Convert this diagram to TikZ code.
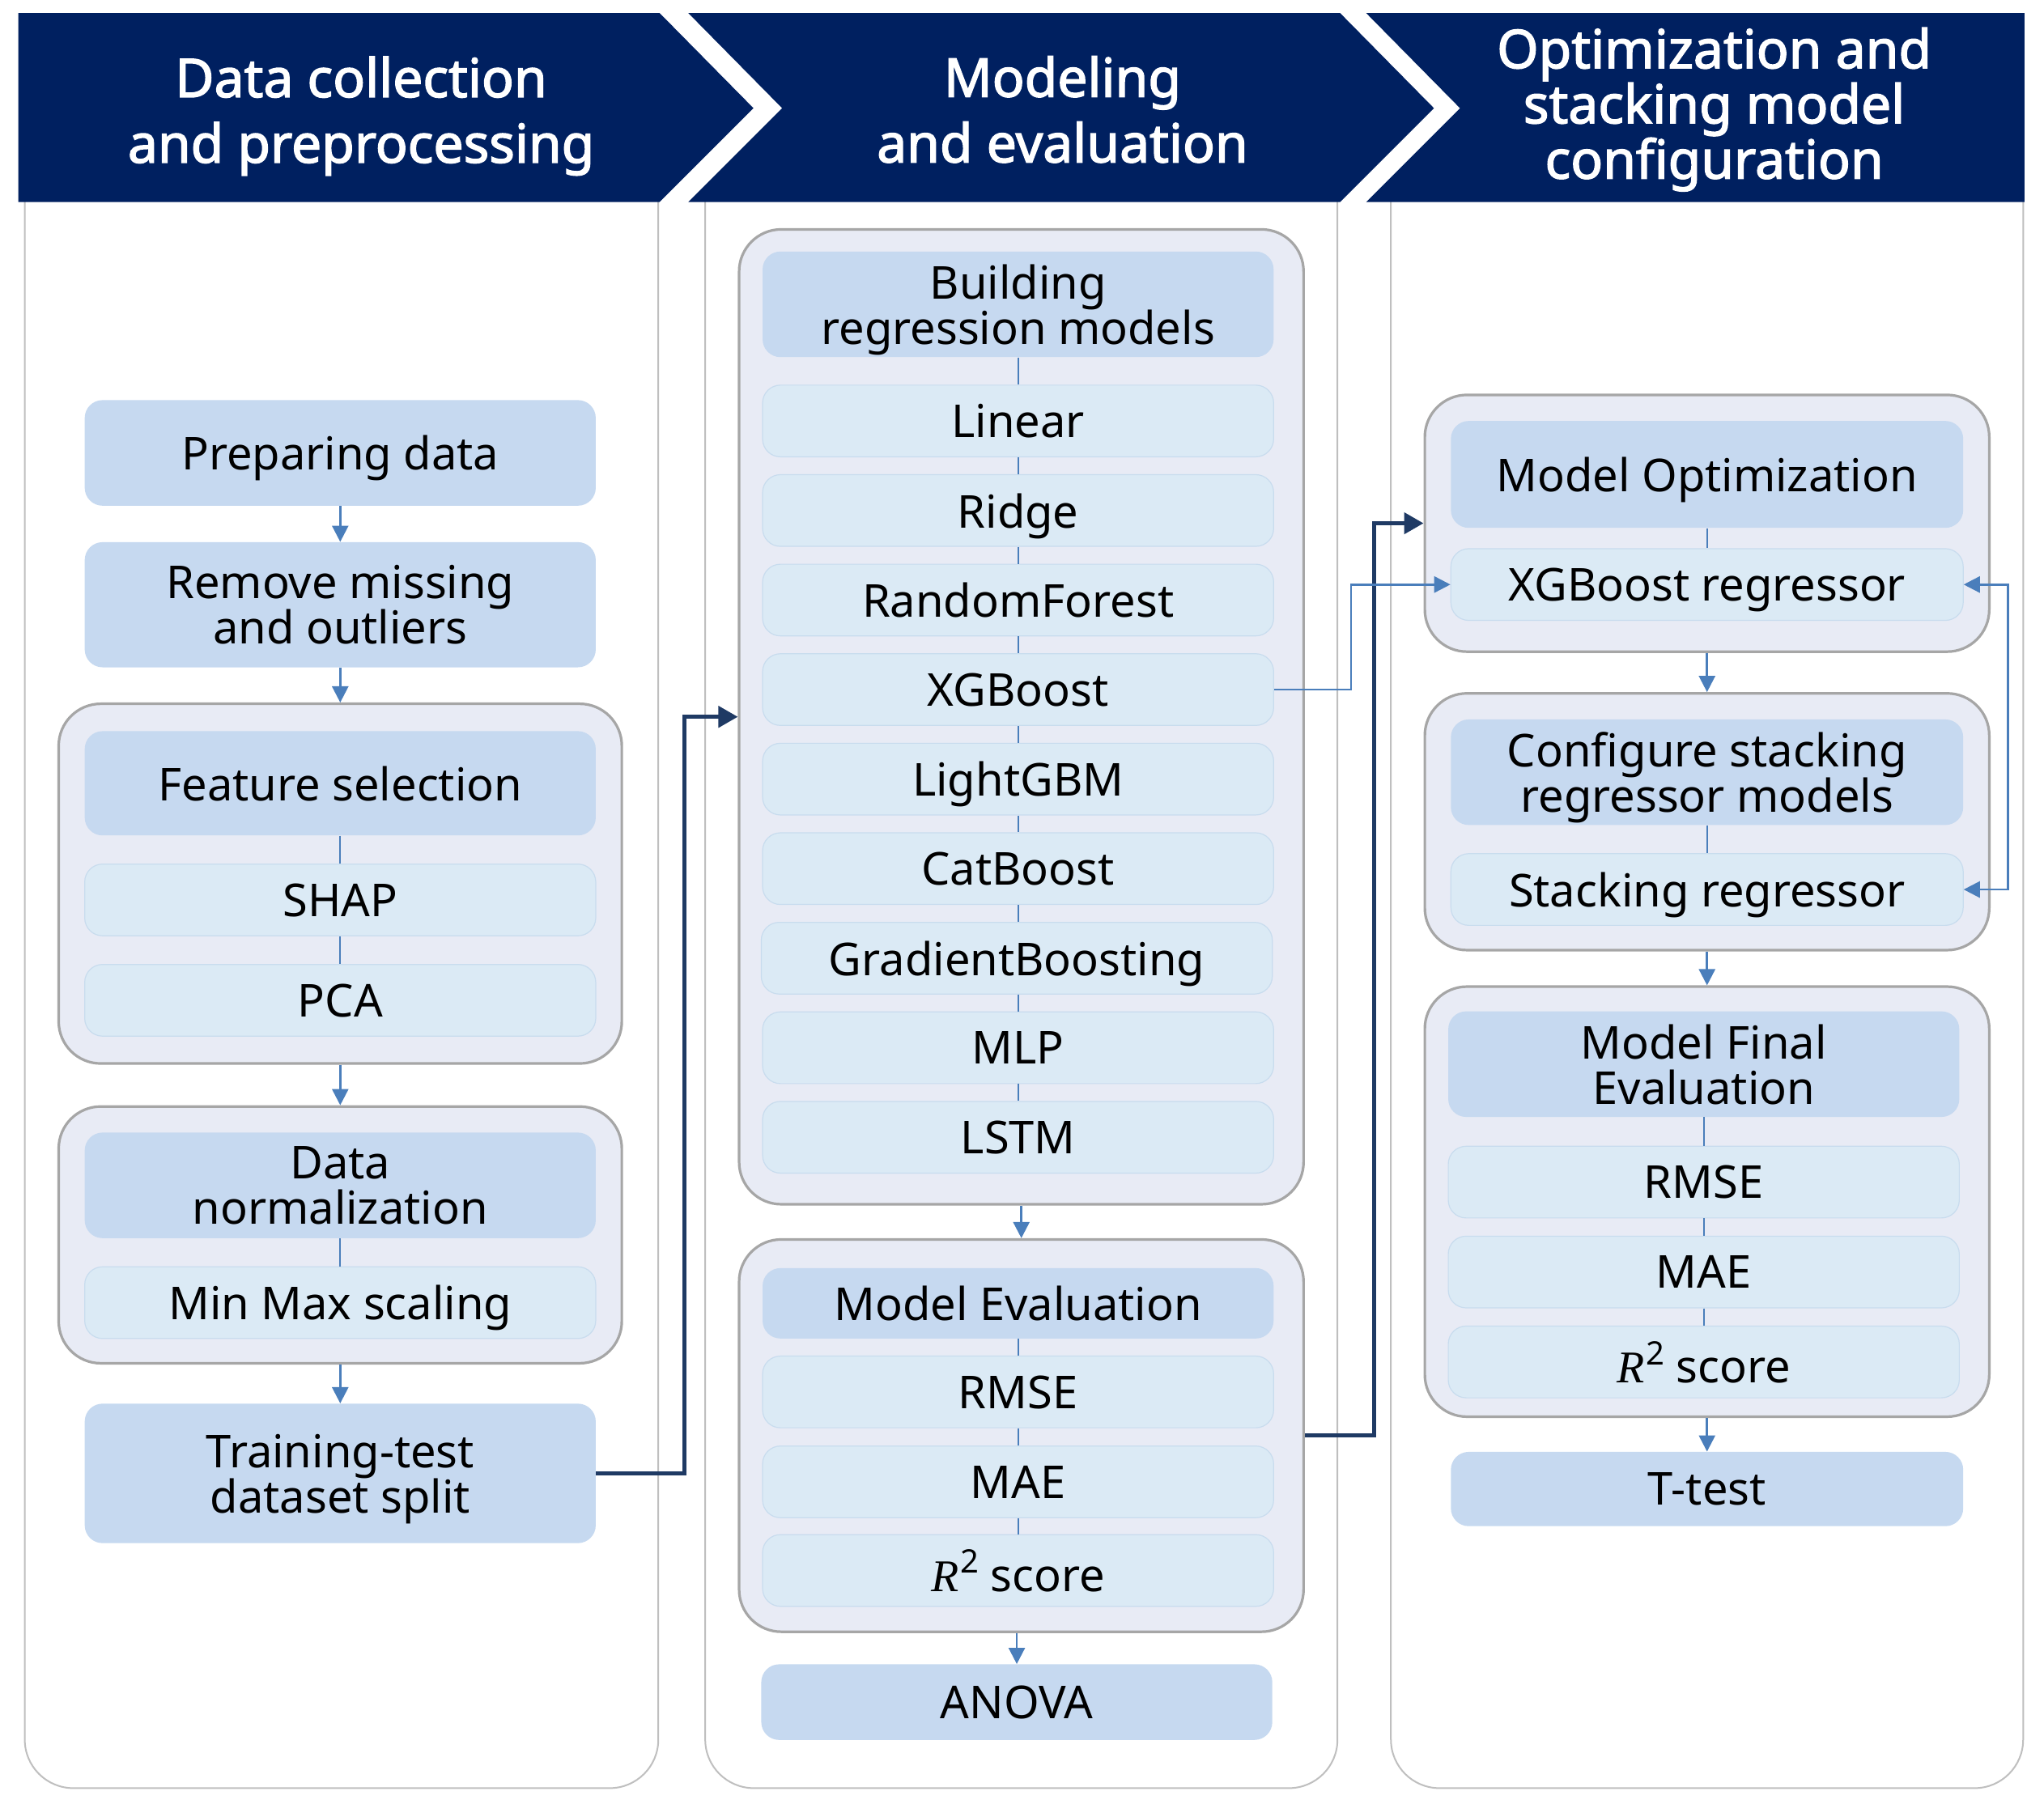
\documentclass[tikz,border=0pt]{standalone}
\usepackage{fontspec}
\setmainfont{Noto Sans}
\newfontfamily\hdrfont{Noto Sans}[FakeBold=2.2]
\newfontfamily\serifface{Liberation Serif}
\usetikzlibrary{arrows.meta}
\def\U{0.80515pt}
\definecolor{navy}{HTML}{002060}
\definecolor{darkline}{HTML}{1F3A64}
\definecolor{bline}{HTML}{4A7EBB}
\definecolor{hdrfill}{HTML}{C6D9F0}
\definecolor{itemfill}{HTML}{DBEAF5}
\definecolor{itemline}{HTML}{C8DCEE}
\definecolor{grpfill}{HTML}{E8EBF5}
\definecolor{grpline}{HTML}{A6A6A6}
\definecolor{panelline}{HTML}{BFBFBF}
\newcommand\rsq{{\serifface\itshape R}\kern1pt\raisebox{0.4em}{\fontsize{20}{20}\selectfont 2}~score}
\begin{document}
\begin{tikzpicture}[x=\U,y=-\U,
  sz/.style 2 args={minimum width={#1*\U},minimum height={#2*\U}},
  panel/.style={draw=panelline,line width=1pt},
  grp/.style={draw=grpline,line width=1.6pt,fill=grpfill,rounded corners=26pt,inner sep=0pt},
  hbox/.style={fill=hdrfill,rounded corners=11pt,inner sep=0pt,align=center,text depth=0pt,font=\fontsize{28}{28}\selectfont},
  ibox/.style={fill=itemfill,draw=itemline,line width=0.6pt,rounded corners=11pt,inner sep=0pt,align=center,text depth=0pt,font=\fontsize{28}{28}\selectfont},
  htext/.style={text=white,align=center,font=\hdrfont\fontsize{33}{40.5}\selectfont},
  htextb/.style={text=white,align=center,font=\hdrfont\fontsize{33}{32.2}\selectfont},
  bl/.style={draw=bline,line width=1pt},
  barrow/.style={draw=bline,line width=1.3pt,-{Triangle[width=10pt,length=10pt]}},
  fb/.style={draw=bline,line width=1.3pt,{Triangle[width=10pt,length=10pt]}-{Triangle[width=10pt,length=10pt]}},
  darr/.style={draw=darkline,line width=2.4pt,-{Triangle[width=13pt,length=12pt]}}
]
\useasboundingbox (0,0) rectangle (1568,1384);
\fill[white] (0,0) rectangle (1568,1384);

% column panels
\draw[panel] (19,150) [rounded corners=30pt] -- (19,1372) -- (505,1372) -- (505,150);
\draw[panel] (541,150) [rounded corners=30pt] -- (541,1372) -- (1026,1372) -- (1026,150);
\draw[panel] (1067,150) [rounded corners=30pt] -- (1067,1372) -- (1552,1372) -- (1552,150);

% headers
\fill[navy] (14,10) -- (506,10) -- (578,83) -- (506,155) -- (14,155) -- cycle;
\fill[navy] (528,10) -- (1028,10) -- (1100,83) -- (1028,155) -- (528,155) -- (600,83) -- cycle;
\fill[navy] (1048,10) -- (1553,10) -- (1553,155) -- (1048,155) -- (1120,83) -- cycle;
\node[htext] (h1) at (277,89) {Data collection\\and preprocessing};
\node[htext] (h2) at (815,84) {Modeling\\and evaluation};
\node[htextb] (h3) at (1315,84) {Optimization and\\stacking model\\configuration};

% ---------------- column 1
\node[hbox,sz={392}{81}] (prep) at (261,347.5) {Preparing data};
\node[hbox,sz={392}{96}] (remove) at (261,464) {Remove missing\\and outliers};
\node[grp,sz={432}{276}] (fsg) at (261,678) {};
\node[hbox,sz={392}{80}] (fsh) at (261,601) {Feature selection};
\node[ibox,sz={392}{55}] (shap) at (261,690.5) {SHAP};
\node[ibox,sz={392}{55}] (pca) at (261,767.5) {PCA};
\node[grp,sz={432}{197}] (dng) at (261,947.5) {};
\node[hbox,sz={392}{81}] (dnh) at (261,909.5) {Data\\normalization};
\node[ibox,sz={392}{55}] (minmax) at (261,999.5) {Min Max scaling};
\node[hbox,sz={392}{107}] (split) at (261,1130.5) {Training-test\\dataset split};

\draw[barrow] (prep) -- (remove);
\draw[barrow] (remove) -- (fsg);
\draw[bl] (fsh) -- (shap);
\draw[bl] (shap) -- (pca);
\draw[barrow] (fsg) -- (dng);
\draw[bl] (dnh) -- (minmax);
\draw[barrow] (dng) -- (split);

% ---------------- column 2
\node[grp,sz={433}{748}] (brg) at (783.5,550) {};
\node[hbox,sz={392}{81}] (brh) at (781,233.5) {Building\\regression models};
\node[ibox,sz={392}{55}] (lin) at (781,323) {Linear};
\node[ibox,sz={392}{55}] (rid) at (781,391.7) {Ridge};
\node[ibox,sz={392}{55}] (rf) at (781,460.4) {RandomForest};
\node[ibox,sz={392}{55}] (xgb) at (781,529.1) {XGBoost};
\node[ibox,sz={392}{55}] (lgb) at (781,597.8) {LightGBM};
\node[ibox,sz={392}{55}] (cat) at (781,666.5) {CatBoost};
\node[ibox,sz={392}{55}] (gb) at (780,735.2) {GradientBoosting};
\node[ibox,sz={392}{55}] (mlp) at (781,803.9) {MLP};
\node[ibox,sz={392}{55}] (lstm) at (781,872.6) {LSTM};
\draw[bl] (brh) -- (lin);
\draw[bl] (lin) -- (rid);
\draw[bl] (rid) -- (rf);
\draw[bl] (rf) -- (xgb);
\draw[bl] (xgb) -- (lgb);
\draw[bl] (lgb) -- (cat);
\draw[bl] (cat.south) -- (cat.south |- gb.north);
\draw[bl] (mlp.north |- gb.south) -- (mlp.north);
\draw[bl] (mlp) -- (lstm);

\node[grp,sz={433}{301}] (meg) at (783.5,1101.5) {};
\node[hbox,sz={392}{54}] (meh) at (781,1000) {Model Evaluation};
\node[ibox,sz={392}{55}] (rmse) at (781,1068) {RMSE};
\node[ibox,sz={392}{55}] (mae) at (781,1137) {MAE};
\node[ibox,sz={392}{55}] (rsq) at (781,1205) {\rsq};
\draw[bl] (meh) -- (rmse);
\draw[bl] (rmse) -- (mae);
\draw[bl] (mae) -- (rsq);
\node[hbox,sz={392}{58}] (anova) at (780,1306) {ANOVA};

\draw[barrow] (brg) -- (meg);
\draw[barrow] (anova.north |- meg.south) -- (anova.north);

% ---------------- column 3
\node[grp,sz={433}{197}] (mog) at (1309.5,401.5) {};
\node[hbox,sz={393}{82}] (moh) at (1309.5,364) {Model Optimization};
\node[ibox,sz={393}{55}] (xgbr) at (1309.5,448.5) {XGBoost regressor};
\draw[bl] (moh) -- (xgbr);

\node[grp,sz={433}{197}] (csg) at (1309.5,630.5) {};
\node[hbox,sz={393}{81}] (csh) at (1309.5,592.5) {Configure stacking\\regressor models};
\node[ibox,sz={393}{55}] (stack) at (1309.5,682.5) {Stacking regressor};
\draw[bl] (csh) -- (stack);

\node[grp,sz={433}{330}] (mfg) at (1309.5,922) {};
\node[hbox,sz={392}{81}] (mfh) at (1307,816.5) {Model Final\\Evaluation};
\node[ibox,sz={392}{55}] (rmse2) at (1307,907) {RMSE};
\node[ibox,sz={392}{55}] (mae2) at (1307,976) {MAE};
\node[ibox,sz={392}{55}] (rsq2) at (1307,1045) {\rsq};
\draw[bl] (mfh) -- (rmse2);
\draw[bl] (rmse2) -- (mae2);
\draw[bl] (mae2) -- (rsq2);
\node[hbox,sz={393}{57}] (ttest) at (1309.5,1142.5) {T-test};

\draw[barrow] (mog) -- (csg);
\draw[barrow] (csg) -- (mfg);
\draw[barrow] (mfg) -- (ttest);

% ---------------- cross connectors
\draw[darr] (split.east) -- ++(68,0) |- (brg.west);
\draw[darr] (meg.east) -- ++(53,0) |- (mog.west);
\draw[barrow] (xgb.east) -- ++(59,0) |- (xgbr.west);
\draw[fb] (xgbr.east) -- ++(34,0) |- (stack.east);
\end{tikzpicture}
\end{document}
